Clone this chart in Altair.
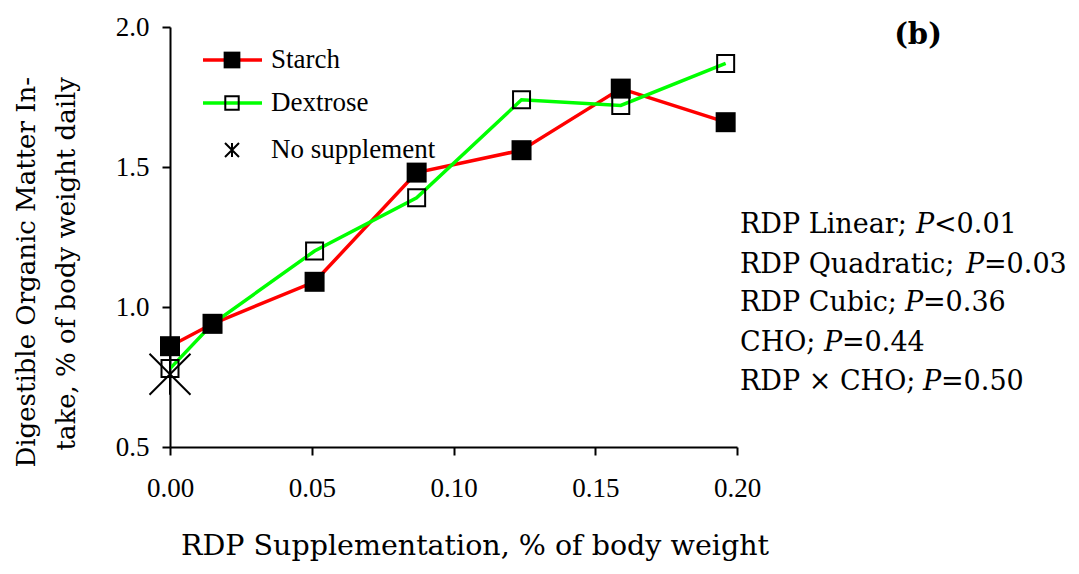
import altair as alt
import pandas as pd

# ---------------- data ----------------
rdp = [0.0, 0.015, 0.051, 0.087, 0.124, 0.159, 0.196]
starch = [0.86, 0.94, 1.09, 1.48, 1.56, 1.78, 1.66]
dextrose = [0.78, 0.94, 1.20, 1.39, 1.74, 1.72, 1.87]
no_supp_x = [0.0]
no_supp_y = [0.76]

legend_labels = ["Starch", "Dextrose", "No supplement"]
stat_prefix = ["RDP Linear;", "RDP Quadratic; ", "RDP Cubic;", "CHO;", "RDP × CHO;"]
stat_suffix = ["<0.01", "=0.03", "=0.36", "=0.44", "=0.50"]
x_ticks = [0.0, 0.05, 0.10, 0.15, 0.20]
y_ticks = [0.5, 1.0, 1.5, 2.0]
x_title = "RDP Supplementation, % of body weight"
y_title = ["Digestible Organic Matter In-", "take, % of body weight daily"]
panel_tag = "(b)"

# ---------------- layout / style ----------------
W, H = 567, 420
RED = "#FF0000"
GREEN = "#00FF00"
TIMES = "Liberation Serif"
PAL = "DejaVu Serif"

df_s = pd.DataFrame({"rdp": rdp, "v": starch})
df_d = pd.DataFrame({"rdp": rdp, "v": dextrose})
df_n = pd.DataFrame({"rdp": no_supp_x, "v": no_supp_y})

xs = alt.Scale(domain=[0, 0.2], nice=False, zero=False)
ys = alt.Scale(domain=[0.5, 2.0], nice=False, zero=False)

x_axis = alt.Axis(values=x_ticks, format=".2f", title=None, grid=False,
                  labelFont=TIMES, labelFontSize=27, labelColor="black",
                  tickColor="black", tickSize=8, tickWidth=2,
                  domainColor="black", domainWidth=2, labelPadding=20,
                  labelFlush=False)
y_axis = alt.Axis(values=y_ticks, format=".1f", title=None, grid=False,
                  labelFont=TIMES, labelFontSize=27, labelColor="black",
                  tickColor="black", tickSize=8, tickWidth=2,
                  domainColor="black", domainWidth=2, labelPadding=13,
                  labelFlush=False)

X = alt.X("rdp:Q", scale=xs, axis=x_axis)
Y = alt.Y("v:Q", scale=ys, axis=y_axis)

red_line = alt.Chart(df_s).mark_line(color=RED, strokeWidth=3.5).encode(x=X, y=Y)
green_line = alt.Chart(df_d).mark_line(color=GREEN, strokeWidth=3.5).encode(x=X, y=Y)
dex_pts = alt.Chart(df_d).mark_point(shape="square", filled=False, color="black",
                                     strokeWidth=2, size=289, opacity=1).encode(x=X, y=Y)
sta_pts = alt.Chart(df_s).mark_point(shape="square", filled=True, color="black",
                                     size=400, opacity=1).encode(x=X, y=Y)
ASTER = "M-1,-1L1,1M-1,1L1,-1M0,-1L0,1"
none_pts = alt.Chart(df_n).mark_point(shape=ASTER, filled=False, color="black",
                                      strokeWidth=2, size=1681, opacity=1).encode(x=X, y=Y)

layers = [red_line, green_line, dex_pts, sta_pts, none_pts]


def txt(s, px, py, font=TIMES, size=27, align="left", baseline="middle",
        angle=0, style="normal", weight="normal"):
    kw = dict(font=font, fontSize=size, align=align, baseline=baseline,
              color="black", fontStyle=style, fontWeight=weight)
    if angle:
        kw["angle"] = angle
    return alt.Chart(pd.DataFrame({"t": [s]})).mark_text(**kw).encode(
        text="t:N", x=alt.value(px), y=alt.value(py))


# legend (manual)
leg_y = [33, 76, 123]
leg_colors = [RED, GREEN]
for i, lab in enumerate(legend_labels):
    yy = leg_y[i]
    if i < 2:
        layers.append(alt.Chart(pd.DataFrame({"a": [0]})).mark_rule(
            color=leg_colors[i], strokeWidth=3.5).encode(
            x=alt.value(33), x2=alt.value(92), y=alt.value(yy)))
        if i == 0:
            layers.append(alt.Chart(pd.DataFrame({"a": [0]})).mark_point(
                shape="square", filled=True, color="black", size=280, opacity=1).encode(
                x=alt.value(62), y=alt.value(yy)))
        else:
            layers.append(alt.Chart(pd.DataFrame({"a": [0]})).mark_point(
                shape="square", filled=False, color="black", strokeWidth=2,
                size=180, opacity=1).encode(x=alt.value(62), y=alt.value(yy)))
    else:
        layers.append(alt.Chart(pd.DataFrame({"a": [0]})).mark_point(
            shape=ASTER, filled=False, color="black", strokeWidth=2,
            size=196, opacity=1).encode(x=alt.value(62), y=alt.value(yy)))
    layers.append(txt(lab, 101, yy))

# statistics annotation (positions relative to plot origin)
ANN = 27
ann_left = 570
stat_y = [198, 238, 276, 316, 355]
p_x = [746, 796, 735, 654, 753]
for pre, suf, yy, pxx in zip(stat_prefix, stat_suffix, stat_y, p_x):
    layers.append(txt(pre.rstrip(), ann_left, yy, font=PAL, size=ANN))
    layers.append(txt("P", pxx, yy, font=PAL, size=ANN, style="italic"))
    layers.append(txt(suf, pxx + 18, yy, font=PAL, size=ANN))

# titles
layers.append(txt(x_title, 305, 519, font=PAL, size=28.5, align="center"))
layers.append(txt(y_title[0], -143, 50, font=PAL, size=26, align="right", angle=270))
layers.append(txt(y_title[1], -103, 50, font=PAL, size=26, align="right", angle=270))
layers.append(txt(panel_tag, 748, 8, font=PAL, size=29, align="center", weight="bold"))

chart = alt.layer(*layers).properties(
    width=W, height=H,
    autosize=alt.AutoSizeParams(type="none"),
    padding={"left": 162, "top": 19, "right": 334, "bottom": 117},
).configure_view(stroke=None)

chart.save("out.html", embed_options={"renderer": "svg", "actions": False})
